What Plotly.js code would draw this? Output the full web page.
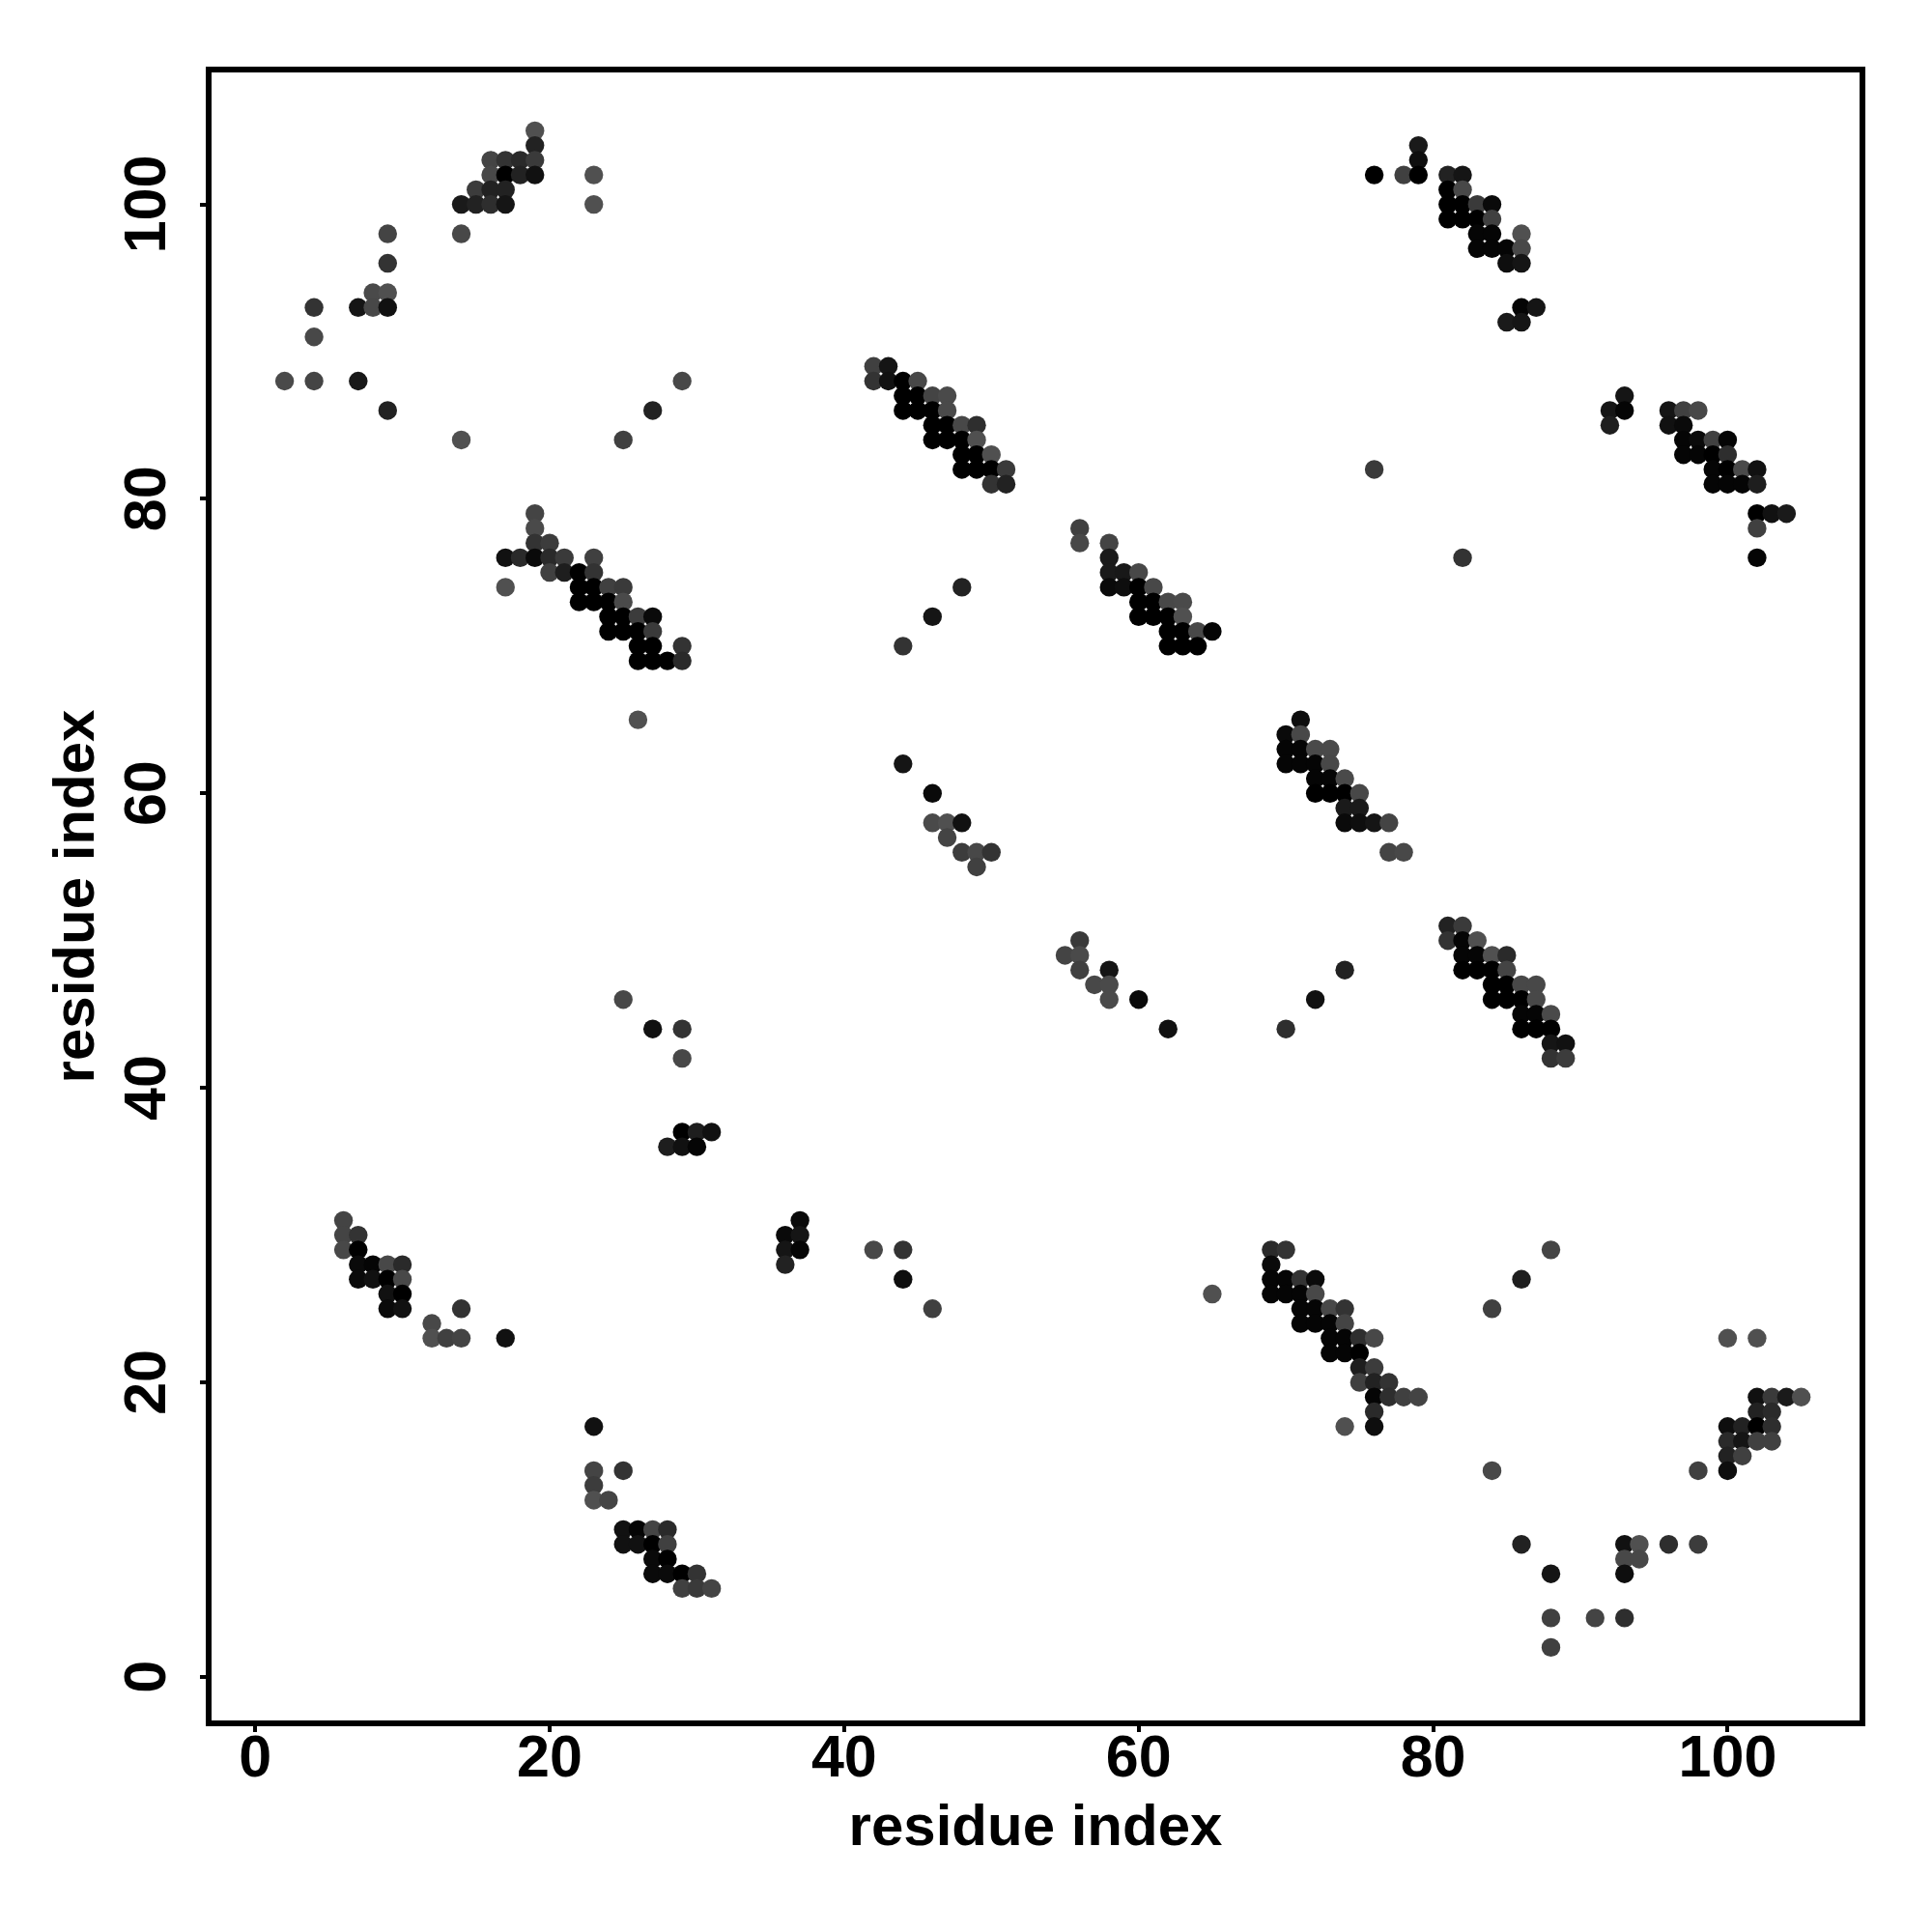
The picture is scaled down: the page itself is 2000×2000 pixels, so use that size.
<!DOCTYPE html>
<html>
<head>
<meta charset="utf-8">
<script src="https://cdn.plot.ly/plotly-3.0.1.min.js"></script>
<style>html,body{margin:0;padding:0;background:#fff}</style>
</head>
<body>
<div id="chart" style="width:2000px;height:2000px"></div>
<script>
// Each contact: residue x, residue y, grey level (0 = black)
const contactX = [
2,4,7,9,14,4,4,7,8,9,8,9,9,9,14,
14,15,16,17,15,16,17,16,17,18,19,16,17,18,19,19,19,23,23,29,27,25,
19,19,19,20,17,18,19,20,21,23,20,21,22,23,17,22,23,24,25,22,23,24,25,24,25,26,27,24,25,26,27,26,27,29,26,27,28,29,
26,25,27,29,29,29,30,31,28,29,30,
6,6,7,6,7,7,8,9,10,7,8,9,10,9,10,9,10,14,12,12,13,14,17,
23,23,25,23,23,24,25,26,27,28,25,26,27,28,27,28,27,28,29,30,29,30,31,
42,43,42,43,44,45,44,45,46,47,44,45,46,47,46,47,48,49,46,47,48,49,48,49,50,48,49,50,51,50,51,
56,56,58,58,58,59,60,58,59,60,61,60,61,62,63,60,61,62,63,48,46,62,63,64,65,62,63,64,44,
44,46,46,47,48,47,48,49,50,49,56,55,56,56,58,57,58,58,60,62,70,72,74,
71,70,71,70,71,72,73,70,71,72,73,72,73,74,72,73,74,75,74,75,74,75,76,77,77,78,
81,82,81,82,83,82,83,84,85,82,83,84,85,84,85,86,87,84,85,86,87,86,87,88,86,87,88,88,89,88,89,
76,78,79,79,79,81,82,81,82,81,82,83,84,81,82,83,84,83,84,86,83,84,85,86,85,86,86,87,85,86,
92,93,93,92,96,97,98,96,97,97,98,99,100,97,98,99,100,99,100,101,102,99,100,101,102,102,103,104,102,102,82,76,
37,36,37,36,37,36,42,44,44,46,65,
69,70,69,69,70,71,72,69,70,71,72,71,72,73,74,71,72,73,74,73,74,73,74,74,
75,76,75,75,76,75,76,77,76,77,78,79,76,76,
88,86,84,100,102,102,103,104,105,102,103,100,101,102,103,100,101,102,103,100,101,100,98,84,86,93,94,96,98,93,94,88,93,88,91,93,88
];
const contactY = [
88,88,88,86,84,91,93,93,93,93,94,94,96,98,98,
100,100,100,100,101,101,101,102,102,102,102,103,103,103,103,104,105,102,100,88,86,84,
79,78,77,77,76,76,76,76,76,76,75,75,75,75,74,74,74,74,74,73,73,73,73,72,72,72,72,71,71,71,71,70,70,70,69,69,69,69,
65,46,44,44,42,37,37,37,36,36,36,
31,30,30,29,29,28,28,28,28,27,27,27,27,26,26,25,25,25,24,23,23,23,23,
17,14,14,13,12,12,10,10,10,10,9,9,9,9,8,8,7,7,7,7,6,6,6,
89,89,88,88,88,88,87,87,87,87,86,86,86,86,85,85,85,85,84,84,84,84,83,83,83,82,82,82,82,81,81,
78,77,77,76,75,75,75,74,74,74,74,73,73,73,73,72,72,72,72,74,72,71,71,71,71,70,70,70,70,
62,60,58,58,58,57,56,56,56,55,50,49,49,48,48,47,47,46,46,44,44,46,48,
65,64,64,63,63,63,63,62,62,62,62,61,61,61,60,60,60,60,59,59,58,58,58,58,56,56,
51,51,50,50,50,49,49,49,49,48,48,48,48,47,47,47,47,46,46,46,46,45,45,45,44,44,44,43,43,42,42,
102,102,102,103,104,102,102,101,101,100,100,100,100,99,99,99,99,98,98,98,97,97,97,97,96,96,93,93,92,92,
86,87,86,85,86,86,86,85,85,84,84,84,84,83,83,83,83,82,82,82,82,81,81,81,81,79,79,79,78,76,76,82,
31,30,30,29,29,28,29,29,27,25,26,
29,29,28,27,27,27,27,26,26,26,26,25,25,25,25,24,24,24,24,23,23,22,22,17,
23,23,22,21,21,20,20,20,19,19,19,19,18,17,
29,27,25,23,23,19,19,19,19,18,18,17,17,17,17,16,16,16,16,15,15,14,14,14,9,9,9,9,9,8,8,7,7,4,4,4,2
];
const contactGrey = [
74,69,24,34,80,72,51,21,72,17,74,80,51,68,72,
26,34,46,21,60,34,34,72,0,34,17,68,51,42,58,34,80,80,80,72,34,64,
68,74,51,60,17,42,10,42,58,64,64,30,0,51,80,0,0,64,58,0,0,0,74,0,0,60,10,0,0,0,58,0,0,51,0,0,0,42,
80,72,17,51,72,0,30,17,30,17,5,
68,68,51,72,0,10,5,72,42,10,17,0,72,17,0,10,17,51,72,80,64,68,17,
17,68,51,60,80,68,17,5,68,42,17,17,0,64,10,0,10,10,0,51,64,58,68,
64,21,51,17,0,72,0,0,68,74,0,0,0,74,0,0,72,46,0,0,0,80,0,0,80,0,0,0,58,51,34,
64,72,68,26,26,24,72,10,14,0,72,0,0,72,74,0,0,0,80,34,21,0,0,72,5,0,0,0,51,
21,10,74,80,17,68,60,72,51,64,58,68,74,64,21,72,74,74,10,17,46,17,34,
14,10,72,5,5,74,74,5,5,5,72,5,5,74,0,0,0,72,26,26,10,14,21,68,68,72,
34,58,51,5,80,5,5,80,42,0,0,0,68,0,0,72,72,0,0,0,72,5,5,74,0,0,0,21,17,51,60,
0,64,0,14,26,34,21,0,72,0,0,58,10,0,0,0,64,5,5,80,5,5,5,72,14,21,5,21,26,21,
21,21,5,30,21,64,72,17,10,5,10,64,5,5,5,0,46,5,0,74,17,5,5,5,30,0,17,26,64,5,51,58,
10,10,21,21,5,34,72,51,14,64,80,
42,51,10,5,5,51,10,5,5,5,72,5,5,72,51,5,5,5,68,5,5,5,5,80,
46,72,0,30,60,64,34,51,5,46,64,68,42,14,
68,30,64,80,80,17,58,26,80,34,42,14,34,0,46,42,21,64,64,34,64,14,64,72,34,17,80,46,60,72,72,21,14,64,68,46,64
];
const xTicks = [0,20,40,60,80,100];
const yTicks = [0,20,40,60,80,100];
const axisLabel = "residue index";

// Overlap order of the reference: later residues are painted over earlier ones
const order = contactX.map((_, i) => i).sort((a, b) =>
  contactX[a] - contactX[b] || contactY[b] - contactY[a]);

const font = "Liberation Sans, Arial, Helvetica, sans-serif";
function axis(ticks, labelStandoff, titleStandoff) {
  return {
    range: [-2.96, 108.96],
    tickmode: "array",
    tickvals: ticks,
    ticktext: ticks.map(String),
    ticks: "outside",
    ticklen: 6,
    tickwidth: 4,
    tickcolor: "#000",
    showline: true,
    mirror: true,
    linewidth: 6,
    linecolor: "#000",
    showgrid: false,
    zeroline: false,
    automargin: false,
    ticklabelstandoff: labelStandoff,
    tickfont: {family: font, size: 61, color: "#000", weight: "bold"},
    title: {text: axisLabel, standoff: titleStandoff,
            font: {family: font, size: 60, color: "#000", weight: "bold"}}
  };
}
const xaxis = axis(xTicks, -27, 19);
const yaxis = axis(yTicks, 12, 1);
yaxis.tickangle = -90;
yaxis.ticklabelshift = 9;

Plotly.newPlot("chart", [{
  type: "scatter",
  mode: "markers",
  x: order.map(i => contactX[i]),
  y: order.map(i => contactY[i]),
  marker: {
    symbol: "circle",
    size: 19.4,
    line: {width: 0},
    color: order.map(i => `rgb(${contactGrey[i]},${contactGrey[i]},${contactGrey[i]})`)
  },
  cliponaxis: false
}], {
  width: 2000,
  height: 2000,
  margin: {l: 219, r: 74.6, t: 75.3, b: 218.8, pad: 0},
  paper_bgcolor: "#fff",
  plot_bgcolor: "#fff",
  showlegend: false,
  hovermode: false,
  xaxis: xaxis,
  yaxis: yaxis
}, {displayModeBar: false, staticPlot: true});
</script>
</body>
</html>
